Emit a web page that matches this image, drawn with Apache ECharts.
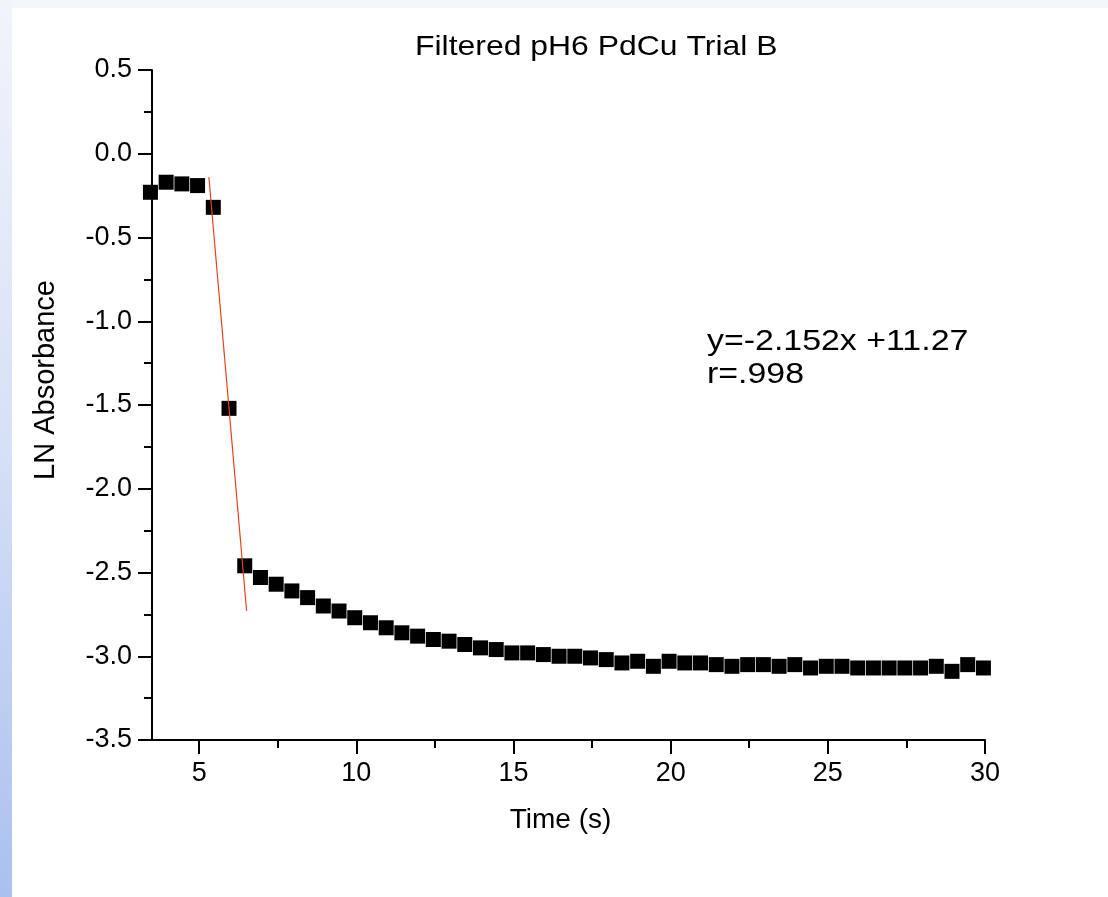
<!DOCTYPE html>
<html>
<head>
<meta charset="utf-8">
<script src="https://cdn.jsdelivr.net/npm/echarts@6/dist/echarts.min.js"></script>
<style>
  html, body { margin: 0; padding: 0; }
  body { width: 1108px; height: 897px; position: relative; overflow: hidden;
         background: linear-gradient(to bottom, #f1f4fb 0%, #d6e0f6 50%, #aac0ef 100%); }
  #topstrip { position: absolute; left: 12px; top: 0; width: 1096px; height: 8px; background: #f3f6fb; }
  #panel { position: absolute; left: 12px; top: 8px; width: 1096px; height: 889px; background: #ffffff; }
  #chart { position: absolute; left: 0; top: 0; width: 1108px; height: 897px; }
</style>
</head>
<body>
<div id="topstrip"></div>
<div id="panel"></div>
<div id="chart"></div>
<script>
// Time (s)
const times = [3.45, 3.95, 4.45, 4.95, 5.45, 5.95, 6.45, 6.95, 7.45, 7.95,
  8.45, 8.95, 9.45, 9.95, 10.45, 10.95, 11.45, 11.95, 12.45, 12.95,
  13.45, 13.95, 14.45, 14.95, 15.45, 15.95, 16.45, 16.95, 17.45, 17.95,
  18.45, 18.95, 19.45, 19.95, 20.45, 20.95, 21.45, 21.95, 22.45, 22.95,
  23.45, 23.95, 24.45, 24.95, 25.45, 25.95, 26.45, 26.95, 27.45, 27.95,
  28.45, 28.95, 29.45, 29.95];
// LN Absorbance
const lnAbs = [-0.23, -0.17, -0.18, -0.19, -0.32, -1.52, -2.46, -2.53, -2.57, -2.61,
  -2.65, -2.70, -2.73, -2.77, -2.80, -2.83, -2.86, -2.88, -2.90, -2.91,
  -2.93, -2.95, -2.96, -2.98, -2.98, -2.99, -3.00, -3.00, -3.01, -3.02,
  -3.04, -3.03, -3.06, -3.03, -3.04, -3.04, -3.05, -3.06, -3.05, -3.05,
  -3.06, -3.05, -3.07, -3.06, -3.06, -3.07, -3.07, -3.07, -3.07, -3.07,
  -3.06, -3.09, -3.05, -3.07];
// Linear fit segment endpoints
const fitX = [5.31, 6.51];
const fitY = [-0.14, -2.73];
// Tick positions on the time axis
const xMajorTicks = [5, 10, 15, 20, 25, 30];
const xMinorTicks = [7.5, 12.5, 17.5, 22.5, 27.5];
const titleText = 'Filtered pH6 PdCu Trial B';
const eqLines = ['y=-2.152x +11.27', 'r=.998'];

const FONT = '"Liberation Sans", Arial, Helvetica, sans-serif';
const chart = echarts.init(document.getElementById('chart'), null, { renderer: 'canvas' });

const tickLine = { color: '#000', width: 2 };

chart.setOption({
  backgroundColor: 'transparent',
  animation: false,
  grid: { left: 152, right: 123, top: 70, bottom: 157, containLabel: false },
  xAxis: [
    {
      type: 'value', min: 3.5, max: 30, interval: 5,
      name: 'Time (s)', nameLocation: 'middle', nameGap: 66,
      nameTextStyle: { fontFamily: FONT, fontSize: 28, color: '#000', padding: [0, 16, 0, 0] },
      axisLine: { show: true, onZero: false, lineStyle: { color: '#000', width: 2 } },
      axisTick: { show: true, length: 14, lineStyle: tickLine, customValues: xMajorTicks },
      minorTick: { show: false },
      axisLabel: { fontFamily: FONT, fontSize: 27, color: '#000', margin: 20, customValues: xMajorTicks },
      splitLine: { show: false }
    },
    {
      type: 'value', min: 3.5, max: 30, interval: 5, position: 'bottom', offset: 0,
      axisLine: { show: false, onZero: false },
      axisTick: { show: true, length: 8, lineStyle: tickLine, customValues: xMinorTicks },
      axisLabel: { show: false },
      splitLine: { show: false }
    }
  ],
  yAxis: {
    type: 'value', min: -3.5, max: 0.5, interval: 0.5,
    name: 'LN Absorbance', nameLocation: 'middle', nameGap: 92, nameRotate: 90,
    nameTextStyle: { fontFamily: FONT, fontSize: 29, color: '#000', padding: [0, 0, 0, 50] },
    axisLine: { show: true, onZero: false, lineStyle: { color: '#000', width: 2 } },
    axisTick: { show: true, length: 14, lineStyle: tickLine },
    minorTick: { show: true, splitNumber: 2, length: 8, lineStyle: tickLine },
    axisLabel: { fontFamily: FONT, fontSize: 27, color: '#000', margin: 20,
                 formatter: v => v.toFixed(1) },
    splitLine: { show: false }
  },
  series: [
    {
      type: 'scatter', symbol: 'rect', symbolSize: 15, clip: false,
      itemStyle: { color: '#000', opacity: 1 },
      data: times.map((t, i) => [t, lnAbs[i]]),
      z: 3
    },
    {
      type: 'line', symbol: 'none', clip: false,
      lineStyle: { color: '#e8401c', width: 1.2 },
      data: fitX.map((x, i) => [x, fitY[i]]),
      z: 4
    }
  ],
  graphic: [
    { type: 'text', left: 415, top: 33, scaleX: 1.14,
      style: { text: titleText, fontFamily: FONT, fontSize: 28, fill: '#000' } },
    { type: 'text', left: 707, top: 325, scaleX: 1.13,
      style: { text: eqLines.join('\n'), fontFamily: FONT, fontSize: 30, lineHeight: 33, fill: '#000' } }
  ]
});
</script>
</body>
</html>
